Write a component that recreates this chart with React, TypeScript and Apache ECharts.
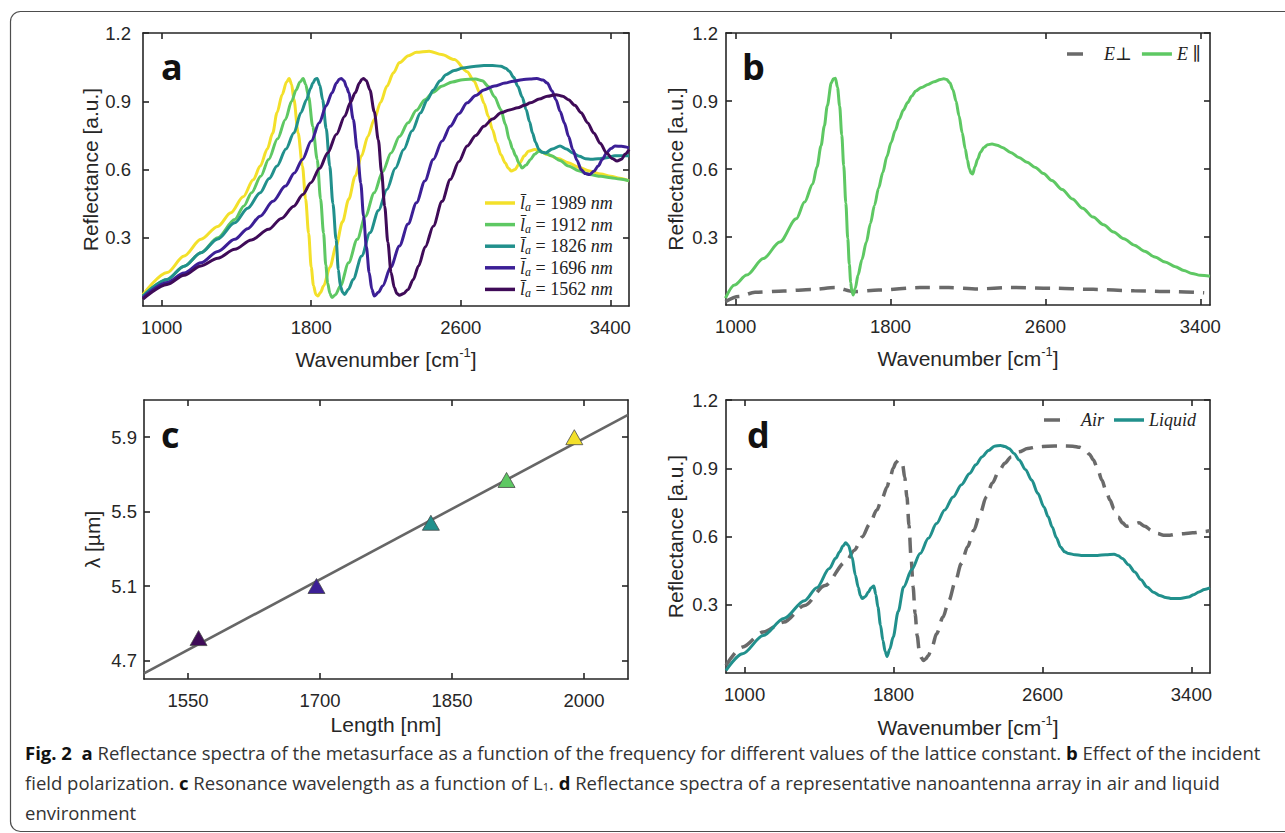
import React, { useEffect, useRef } from 'react';
import * as echarts from 'echarts';

// ---------------- data ----------------
const wavenumberTicks = [1000, 1800, 2600, 3400];
const reflectanceTicks = [0.3, 0.6, 0.9, 1.2];
const lengthTicks = [1550, 1700, 1850, 2000];
const lambdaTicks = [4.7, 5.1, 5.5, 5.9];

// panel a: reflectance spectra for different lattice constants
const latticeLengths = ['1989', '1912', '1826', '1696', '1562'];
const spec1989: [number, number][] = [
  [900, 0.05], [1029, 0.147], [1120, 0.22], [1210, 0.293], [1300, 0.35], [1370, 0.41], [1436, 0.48],
  [1490, 0.555], [1527, 0.615], [1565, 0.69], [1594, 0.76], [1617, 0.85], [1645, 0.93], [1668, 0.985],
  [1682, 1.0], [1695, 0.975], [1707, 0.91], [1730, 0.76], [1753, 0.615], [1770, 0.47], [1786, 0.32],
  [1800, 0.17], [1812, 0.09], [1825, 0.05], [1835, 0.044], [1850, 0.06], [1866, 0.088], [1900, 0.17],
  [1933, 0.264], [1967, 0.37], [2001, 0.47], [2035, 0.57], [2069, 0.66], [2103, 0.745], [2137, 0.82],
  [2171, 0.895], [2205, 0.966], [2240, 1.025], [2272, 1.07], [2320, 1.1], [2363, 1.115], [2431, 1.12],
  [2498, 1.105], [2566, 1.083], [2634, 1.03], [2670, 0.99], [2702, 0.937], [2725, 0.89], [2747, 0.834],
  [2770, 0.775], [2792, 0.717], [2815, 0.665], [2837, 0.63], [2855, 0.605], [2871, 0.593], [2890, 0.6],
  [2916, 0.63], [2940, 0.66], [2962, 0.68], [2996, 0.688], [3030, 0.678], [3063, 0.666], [3120, 0.648],
  [3176, 0.63], [3230, 0.61], [3289, 0.593], [3350, 0.58], [3402, 0.57], [3450, 0.562], [3500, 0.55],
];
const spec1912: [number, number][] = [
  [900, 0.044], [1029, 0.117], [1120, 0.175], [1210, 0.234], [1300, 0.3], [1391, 0.38], [1440, 0.44],
  [1481, 0.498], [1530, 0.57], [1572, 0.644], [1620, 0.735], [1662, 0.82], [1695, 0.9], [1719, 0.95],
  [1740, 0.985], [1757, 1.0], [1770, 0.975], [1786, 0.92], [1808, 0.79], [1832, 0.644], [1850, 0.47],
  [1866, 0.32], [1878, 0.18], [1888, 0.1], [1900, 0.055], [1911, 0.037], [1930, 0.05], [1956, 0.088],
  [2000, 0.19], [2046, 0.293], [2090, 0.395], [2137, 0.498], [2182, 0.59], [2227, 0.673], [2272, 0.745],
  [2318, 0.805], [2363, 0.86], [2408, 0.907], [2453, 0.94], [2498, 0.966], [2555, 0.985], [2611, 0.995],
  [2679, 0.998], [2715, 0.99], [2747, 0.966], [2780, 0.92], [2815, 0.863], [2838, 0.8], [2860, 0.73],
  [2877, 0.69], [2894, 0.66], [2910, 0.63], [2928, 0.607], [2950, 0.62], [2973, 0.644], [2995, 0.667],
  [3018, 0.68], [3050, 0.672], [3086, 0.66], [3130, 0.64], [3176, 0.615], [3230, 0.595], [3289, 0.578],
  [3350, 0.57], [3402, 0.564], [3450, 0.558], [3500, 0.55],
];
const spec1826: [number, number][] = [
  [900, 0.044], [1029, 0.117], [1120, 0.175], [1210, 0.234], [1300, 0.295], [1391, 0.366], [1460, 0.43],
  [1527, 0.498], [1575, 0.56], [1617, 0.615], [1665, 0.69], [1707, 0.76], [1745, 0.85], [1775, 0.907],
  [1795, 0.955], [1809, 0.98], [1822, 0.998], [1832, 1.0], [1846, 0.97], [1861, 0.907], [1880, 0.78],
  [1899, 0.615], [1916, 0.45], [1933, 0.293], [1945, 0.16], [1956, 0.088], [1968, 0.06], [1979, 0.051],
  [2000, 0.075], [2024, 0.117], [2070, 0.22], [2114, 0.322], [2160, 0.42], [2205, 0.512], [2250, 0.605],
  [2295, 0.688], [2340, 0.77], [2385, 0.849], [2420, 0.905], [2453, 0.95], [2490, 0.99], [2521, 1.017],
  [2565, 1.035], [2611, 1.046], [2670, 1.053], [2724, 1.057], [2770, 1.057], [2815, 1.054], [2840, 1.045],
  [2860, 1.032], [2883, 1.005], [2905, 0.966], [2928, 0.92], [2950, 0.863], [2968, 0.81], [2984, 0.76],
  [3000, 0.72], [3018, 0.688], [3035, 0.676], [3052, 0.673], [3090, 0.69], [3131, 0.703], [3165, 0.69],
  [3199, 0.673], [3235, 0.658], [3267, 0.647], [3300, 0.645], [3335, 0.647], [3380, 0.652], [3425, 0.66],
  [3460, 0.66], [3500, 0.66],
];
const spec1696: [number, number][] = [
  [900, 0.037], [1029, 0.103], [1120, 0.145], [1210, 0.19], [1300, 0.24], [1391, 0.293], [1460, 0.34],
  [1527, 0.395], [1595, 0.46], [1662, 0.527], [1710, 0.585], [1753, 0.644], [1800, 0.725], [1843, 0.805],
  [1880, 0.88], [1911, 0.937], [1935, 0.98], [1950, 0.997], [1961, 1.0], [1975, 0.99], [1990, 0.96],
  [2001, 0.937], [2025, 0.82], [2046, 0.688], [2065, 0.54], [2080, 0.395], [2095, 0.26], [2110, 0.147],
  [2124, 0.075], [2137, 0.044], [2160, 0.06], [2182, 0.088], [2225, 0.17], [2272, 0.264], [2318, 0.36],
  [2363, 0.454], [2408, 0.55], [2453, 0.644], [2500, 0.725], [2544, 0.79], [2590, 0.845], [2634, 0.893],
  [2680, 0.925], [2724, 0.95], [2780, 0.967], [2837, 0.98], [2880, 0.988], [2928, 0.995], [2970, 0.998],
  [3007, 1.0], [3040, 0.993], [3063, 0.98], [3088, 0.945], [3109, 0.907], [3132, 0.855], [3154, 0.805],
  [3177, 0.745], [3199, 0.688], [3222, 0.64], [3244, 0.6], [3266, 0.582], [3289, 0.578], [3312, 0.592],
  [3335, 0.615], [3358, 0.645], [3380, 0.673], [3403, 0.692], [3425, 0.703], [3460, 0.702], [3500, 0.695],
];
const spec1562: [number, number][] = [
  [900, 0.03], [1029, 0.095], [1120, 0.135], [1210, 0.176], [1300, 0.21], [1391, 0.249], [1480, 0.29],
  [1572, 0.337], [1640, 0.385], [1707, 0.439], [1755, 0.49], [1798, 0.542], [1845, 0.605], [1888, 0.673],
  [1935, 0.755], [1979, 0.834], [2010, 0.895], [2035, 0.937], [2058, 0.98], [2070, 0.996], [2080, 1.0],
  [2095, 0.99], [2114, 0.95], [2137, 0.855], [2159, 0.73], [2176, 0.59], [2193, 0.439], [2210, 0.28],
  [2227, 0.147], [2245, 0.08], [2258, 0.055], [2272, 0.047], [2295, 0.055], [2318, 0.073], [2345, 0.115],
  [2374, 0.176], [2410, 0.26], [2453, 0.351], [2500, 0.46], [2544, 0.556], [2590, 0.635], [2634, 0.703],
  [2680, 0.75], [2724, 0.79], [2770, 0.822], [2815, 0.849], [2860, 0.862], [2905, 0.871], [2940, 0.882],
  [2973, 0.893], [3020, 0.91], [3063, 0.922], [3109, 0.929], [3145, 0.922], [3176, 0.907], [3210, 0.882],
  [3244, 0.849], [3278, 0.806], [3312, 0.76], [3346, 0.715], [3380, 0.673], [3410, 0.648], [3436, 0.637],
  [3460, 0.645], [3480, 0.668], [3500, 0.688],
];

// panel b: polarization
const ePerp: [number, number][] = [
  [947, 0.015], [1015, 0.037], [1100, 0.056], [1249, 0.062], [1398, 0.069], [1515, 0.077], [1611, 0.059],
  [1739, 0.066], [1952, 0.077], [2101, 0.077], [2250, 0.071], [2420, 0.077], [2633, 0.074], [2846, 0.069],
  [3059, 0.063], [3271, 0.059], [3420, 0.054],
];
const ePar: [number, number][] = [
  [947, 0.03], [994, 0.088], [1057, 0.132], [1143, 0.205], [1228, 0.278], [1313, 0.38], [1356, 0.454],
  [1398, 0.534], [1420, 0.61], [1441, 0.703], [1458, 0.79], [1473, 0.878], [1494, 0.98], [1505, 0.998],
  [1515, 1.0], [1526, 0.96], [1537, 0.878], [1548, 0.75], [1558, 0.615], [1569, 0.45], [1579, 0.293],
  [1587, 0.18], [1594, 0.1], [1600, 0.06], [1607, 0.044], [1618, 0.075], [1632, 0.132], [1652, 0.2],
  [1675, 0.278], [1696, 0.36], [1717, 0.439], [1738, 0.515], [1760, 0.585], [1781, 0.655], [1803, 0.717],
  [1824, 0.77], [1845, 0.82], [1866, 0.86], [1888, 0.893], [1910, 0.922], [1930, 0.944], [1960, 0.96],
  [1994, 0.973], [2025, 0.985], [2058, 0.995], [2075, 0.998], [2090, 0.995], [2106, 0.98], [2122, 0.95],
  [2138, 0.9], [2154, 0.834], [2170, 0.76], [2186, 0.688], [2197, 0.64], [2207, 0.6], [2216, 0.582],
  [2224, 0.578], [2236, 0.61], [2250, 0.644], [2265, 0.675], [2282, 0.695], [2302, 0.707], [2324, 0.71],
  [2350, 0.705], [2377, 0.695], [2420, 0.673], [2463, 0.651], [2505, 0.63], [2548, 0.607], [2590, 0.58],
  [2633, 0.549], [2686, 0.51], [2739, 0.468], [2792, 0.427], [2846, 0.388], [2900, 0.354], [2952, 0.322],
  [3005, 0.292], [3059, 0.264], [3112, 0.237], [3165, 0.212], [3218, 0.19], [3271, 0.169], [3315, 0.152],
  [3357, 0.139], [3400, 0.131], [3450, 0.127],
];

// panel c: resonance wavelength vs length
const resonanceLength = [1562, 1696, 1826, 1912, 1989];
const resonanceLambda = [4.82, 5.1, 5.44, 5.67, 5.9];
const fitLength = [1500, 2050];
const fitLambda = [4.63, 6.02];

// panel d: air vs liquid
const airSpec: [number, number][] = [
  [900, 0.033], [989, 0.114], [1100, 0.18], [1211, 0.224], [1322, 0.297], [1432, 0.385], [1543, 0.488],
  [1590, 0.54], [1632, 0.598], [1672, 0.655], [1710, 0.716], [1740, 0.77], [1765, 0.818], [1782, 0.86],
  [1798, 0.9], [1813, 0.925], [1827, 0.936], [1840, 0.93], [1849, 0.914], [1860, 0.86], [1872, 0.774],
  [1883, 0.65], [1894, 0.51], [1905, 0.38], [1916, 0.26], [1927, 0.165], [1938, 0.099], [1949, 0.068],
  [1960, 0.055], [1973, 0.062], [1987, 0.077], [2008, 0.118], [2031, 0.172], [2065, 0.245], [2098, 0.319],
  [2131, 0.4], [2164, 0.481], [2198, 0.555], [2231, 0.627], [2265, 0.7], [2298, 0.774], [2331, 0.835],
  [2364, 0.884], [2398, 0.922], [2431, 0.95], [2475, 0.972], [2520, 0.987], [2575, 0.994], [2630, 0.997],
  [2700, 0.998], [2763, 0.997], [2800, 0.992], [2830, 0.98], [2852, 0.962], [2874, 0.936], [2897, 0.895],
  [2919, 0.848], [2941, 0.803], [2963, 0.76], [2985, 0.72], [3007, 0.686], [3030, 0.66], [3052, 0.645],
  [3085, 0.652], [3118, 0.66], [3150, 0.645], [3185, 0.627], [3218, 0.613], [3251, 0.605], [3285, 0.606],
  [3318, 0.61], [3360, 0.612], [3407, 0.616], [3450, 0.62], [3500, 0.625],
];
const liquidSpec: [number, number][] = [
  [900, 0.011], [989, 0.085], [1100, 0.165], [1211, 0.24], [1322, 0.318], [1388, 0.375], [1455, 0.459],
  [1490, 0.505], [1510, 0.532], [1528, 0.558], [1543, 0.572], [1558, 0.56], [1577, 0.51], [1595, 0.43],
  [1610, 0.378], [1622, 0.34], [1632, 0.327], [1648, 0.335], [1665, 0.356], [1680, 0.375], [1694, 0.382],
  [1705, 0.345], [1716, 0.29], [1730, 0.21], [1743, 0.143], [1755, 0.095], [1765, 0.073], [1780, 0.105],
  [1798, 0.158], [1825, 0.27], [1854, 0.378], [1898, 0.455], [1943, 0.525], [1987, 0.592], [2031, 0.657],
  [2075, 0.717], [2120, 0.774], [2165, 0.828], [2209, 0.877], [2242, 0.915], [2275, 0.95], [2310, 0.978],
  [2342, 0.997], [2375, 1.0], [2398, 0.996], [2420, 0.987], [2447, 0.965], [2475, 0.936], [2508, 0.895],
  [2542, 0.848], [2575, 0.79], [2608, 0.73], [2630, 0.688], [2652, 0.642], [2675, 0.595], [2697, 0.554],
  [2719, 0.533], [2741, 0.525], [2775, 0.52], [2808, 0.517], [2850, 0.516], [2896, 0.517], [2940, 0.52],
  [2985, 0.522], [3008, 0.515], [3029, 0.503], [3062, 0.476], [3096, 0.444], [3129, 0.41], [3162, 0.378],
  [3196, 0.355], [3229, 0.341], [3262, 0.332], [3296, 0.327], [3340, 0.328], [3385, 0.334], [3412, 0.344],
  [3440, 0.356], [3470, 0.367], [3500, 0.374],
];

// ---------------- styles ----------------
const SANS = '"Liberation Sans", Arial, Helvetica, sans-serif';
const SERIF = '"Liberation Serif", "DejaVu Serif", serif';
const BOLD = '"Open Sans", "Liberation Sans", sans-serif';
const CAP = '"Open Sans", "Liberation Sans", sans-serif';
const CAP_SIZE = 18.5;
const AX = '#262626';
const palette = ['#f3e02a', '#5ec863', '#21908c', '#3c1f96', '#3f0b58'];
const dashGray = '#6a6a6a';
const dashIcon = 'path://M0,0h0.01v3.5h-0.01z M7,0h16v3.5h-16z M29.99,0h0.01v3.5h-0.01z';

type G = { left: number; top: number; width: number; height: number };
const grids: G[] = [
  { left: 143, top: 33, width: 486, height: 273 },
  { left: 726, top: 33, width: 484, height: 272 },
  { left: 144, top: 400, width: 484, height: 279 },
  { left: 726, top: 400, width: 484, height: 273 },
];

const axisLineStyle = { color: AX, width: 1.6 };

function xAxes(gi: number, min: number, max: number, ticks: number[], name: string, nameGap: number) {
  const base: any = {
    type: 'value', gridIndex: gi, min, max, splitLine: { show: false },
    axisLine: { show: true, onZero: false, lineStyle: axisLineStyle },
    axisTick: { show: true, inside: true, length: 6, customValues: ticks, lineStyle: axisLineStyle },
  };
  return [
    {
      ...base, position: 'bottom',
      axisLabel: {
        show: true, customValues: ticks, margin: 12, color: AX, fontSize: 18.5, fontFamily: SANS,
        formatter: (v: number) => String(v),
      },
      name, nameLocation: 'middle', nameGap,
      nameTextStyle: {
        color: AX, fontSize: 21, fontFamily: SANS,
        rich: { sup: { fontSize: 13, fontFamily: SANS, color: AX, padding: [0, 0, 13, 0] } },
      },
    },
    { ...base, position: 'top', axisLabel: { show: false } },
  ];
}

function yAxes(gi: number, min: number, max: number, ticks: number[], name: string, nameGap: number, margin: number) {
  const base: any = {
    type: 'value', gridIndex: gi, min, max, splitLine: { show: false },
    axisLine: { show: true, onZero: false, lineStyle: axisLineStyle },
    axisTick: { show: true, inside: true, length: 6, customValues: ticks, lineStyle: axisLineStyle },
  };
  return [
    {
      ...base, position: 'left',
      axisLabel: {
        show: true, customValues: ticks, margin, color: AX, fontSize: 18.5, fontFamily: SANS,
        formatter: (v: number) => v.toFixed(1),
      },
      name, nameLocation: 'middle', nameGap,
      nameTextStyle: { color: AX, fontSize: 21, fontFamily: SANS },
    },
    { ...base, position: 'right', axisLabel: { show: false } },
  ];
}

function line(name: string, data: [number, number][], color: string, gi: number, dashed = false) {
  return {
    type: 'line', name, data, xAxisIndex: gi * 2, yAxisIndex: gi * 2,
    symbol: 'none', showSymbol: false, smooth: 0.3, smoothMonotone: 'x',
    lineStyle: dashed ? { color, width: 3.5, type: [15, 9] } : { color, width: 3 },
    itemStyle: { color }, emphasis: { disabled: true }, silent: true,
  };
}

const legendRich = {
  i: { fontFamily: SERIF, fontStyle: 'italic', fontSize: 18, color: '#222' },
  sub: { fontFamily: SERIF, fontStyle: 'italic', fontSize: 12, color: '#222', padding: [8, 0, 0, 0] },
  n: { fontFamily: SERIF, fontSize: 18, color: '#222' },
};

function buildOption(): any {
  const aNames = latticeLengths.map((l) => 'L' + l);
  const aSpecs = [spec1989, spec1912, spec1826, spec1696, spec1562];
  const series: any[] = [];
  aSpecs.forEach((s, i) => series.push(line(aNames[i], s, palette[i], 0)));
  series.push(line('Eperp', ePerp, dashGray, 1, true));
  series.push(line('Epar', ePar, palette[1], 1));
  series.push({
    type: 'line', name: 'fit', xAxisIndex: 4, yAxisIndex: 4, symbol: 'none',
    data: fitLength.map((x, i) => [x, fitLambda[i]]),
    lineStyle: { color: '#666666', width: 2.6 }, silent: true, z: 2,
  });
  series.push({
    type: 'scatter', name: 'res', xAxisIndex: 4, yAxisIndex: 4, symbol: 'triangle', symbolSize: [17, 15],
    data: resonanceLength.map((x, i) => ({
      value: [x, resonanceLambda[i]],
      itemStyle: { color: palette[latticeLengths.indexOf(String(x))] },
    })),
    itemStyle: { borderColor: '#4a4a4a', borderWidth: 0.8, opacity: 1 }, silent: true, z: 3,
  });
  series.push(line('Air', airSpec, dashGray, 3, true));
  series.push(line('Liquid', liquidSpec, palette[2], 3));

  const aLabels: Record<string, string> = {};
  latticeLengths.forEach((l) => { aLabels['L' + l] = `{i|l\u0304}{sub|a}{n| = ${l} }{i|nm}`; });

  return {
    animation: false,
    backgroundColor: '#ffffff',
    grid: grids.map((g) => ({ ...g, containLabel: false })),
    xAxis: [
      ...xAxes(0, 900, 3500, wavenumberTicks, 'Wavenumber [cm{sup|-1}]', 40),
      ...xAxes(1, 950, 3450, wavenumberTicks, 'Wavenumber [cm{sup|-1}]', 40),
      ...xAxes(2, 1500, 2050, lengthTicks, 'Length [nm]', 35),
      ...xAxes(3, 900, 3500, wavenumberTicks, 'Wavenumber [cm{sup|-1}]', 41),
    ],
    yAxis: [
      ...yAxes(0, 0, 1.2, reflectanceTicks, 'Reflectance [a.u.]', 38, 12),
      ...yAxes(1, 0, 1.2, reflectanceTicks, 'Reflectance [a.u.]', 40, 8),
      ...yAxes(2, 4.6, 6.1, lambdaTicks, '\u03bb [\u00b5m]', 41, 7),
      ...yAxes(3, 0, 1.2, reflectanceTicks, 'Reflectance [a.u.]', 40, 8),
    ],
    legend: [
      {
        data: aNames, orient: 'vertical', left: 485, top: 194, padding: 0, itemWidth: 30, itemHeight: 3.5,
        itemGap: 2.6, selectedMode: false, icon: 'rect',
        formatter: (n: string) => aLabels[n],
        textStyle: { fontFamily: SERIF, fontSize: 18, color: '#222', lineHeight: 18, rich: legendRich },
      },
      {
        data: [{ name: 'Eperp', icon: dashIcon }, 'Epar'], orient: 'horizontal', left: 1060, top: 45, padding: 0,
        itemWidth: 30, itemHeight: 3.5, itemGap: 10, selectedMode: false, icon: 'rect',
        formatter: (n: string) => (n === 'Eperp' ? '  {i|E}\u22a5' : '{i|E} \u2225'),
        textStyle: { fontFamily: SERIF, fontSize: 18, color: '#222', lineHeight: 18, rich: legendRich },
      },
      {
        data: [{ name: 'Air', icon: dashIcon }, 'Liquid'], orient: 'horizontal', left: 1037, top: 411, padding: 0,
        itemWidth: 30, itemHeight: 3.5, itemGap: 10, selectedMode: false, icon: 'rect',
        formatter: (n: string) => (n === 'Air' ? '  {i|Air}' : '{i|Liquid}'),
        textStyle: { fontFamily: SERIF, fontSize: 18, color: '#222', lineHeight: 18, rich: legendRich },
      },
    ],
    series,
    graphic: [
      {
        type: 'rect', silent: true, z: -10,
        shape: { x: 10.5, y: 11.5, width: 1300, height: 820, r: 10 },
        style: { fill: 'none', stroke: '#4d4d4d', lineWidth: 1.2 },
      },
      ...[
        ['a', 161, 66], ['b', 742, 66], ['c', 161, 434], ['d', 747, 434],
      ].map(([t, x, y]) => ({
        type: 'text', silent: true, x, y, z: 20,
        style: { text: t, fontFamily: BOLD, fontWeight: 'bold', fontSize: 36, fill: '#111', verticalAlign: 'middle' },
      })),
      ...[
        '{b|Fig. 2}  {b|a} Reflectance spectra of the metasurface as a function of the frequency for different values of the lattice constant. {b|b} Effect of the incident',
        'field polarization. {b|c} Resonance wavelength as a function of L{s|1}. {b|d} Reflectance spectra of a representative nanoantenna array in air and liquid',
        'environment',
      ].map((t, i) => ({
        type: 'text', silent: true, x: 25, y: 752 + i * 30.3,
        style: {
          text: t, fontFamily: CAP, fontSize: CAP_SIZE, fill: '#333', verticalAlign: 'middle',
          rich: {
            b: { fontFamily: CAP, fontSize: CAP_SIZE, fontWeight: 'bold', fill: '#111' },
            s: { fontFamily: CAP, fontSize: 11, fill: '#333', padding: [8, 0, 0, 0] },
          },
        },
      })),
    ],
  };
}

export default function App() {
  const ref = useRef<HTMLDivElement>(null);
  useEffect(() => {
    document.body.style.margin = '0';
    const chart = echarts.init(ref.current as HTMLDivElement, null, { renderer: 'svg' });
    chart.setOption(buildOption());
    return () => chart.dispose();
  }, []);
  return <div ref={ref} style={{ width: 1285, height: 833, background: '#fff' }} />;
}
